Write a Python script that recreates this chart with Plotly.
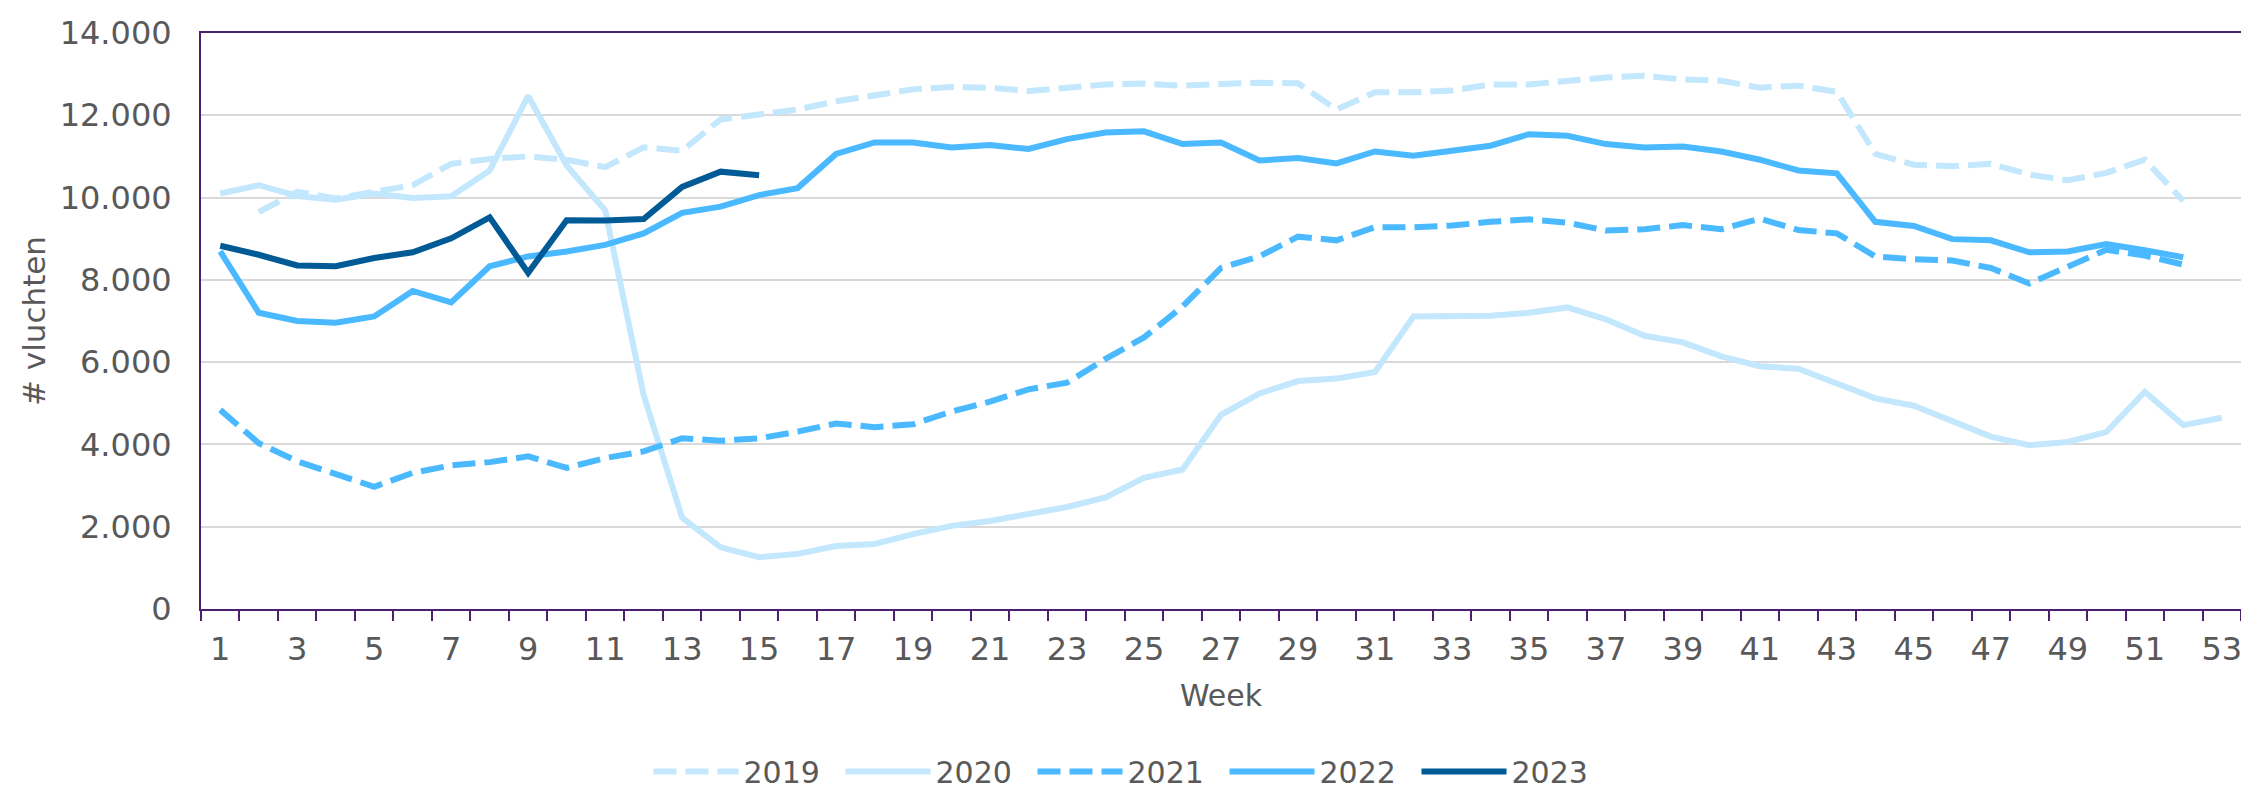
# %% Import
import plotly.graph_objects as go

# %% Data: aantal vluchten per week
weeks = list(range(1, 54))

y2019 = [None, 9650, 10140, 9980, 10140, 10300, 10820, 10940, 11000, 10920,
         10740, 11220, 11140, 11900, 12020, 12140, 12340, 12470, 12630, 12690,
         12670, 12590, 12670, 12750, 12770, 12720, 12760, 12790, 12780, 12140,
         12560, 12560, 12600, 12750, 12750, 12840, 12920, 12960, 12870, 12840,
         12670, 12720, 12570, 11060, 10800, 10760, 10820, 10560, 10420, 10600,
         10920, 9920, None]

y2020 = [10100, 10300, 10040, 9950, 10100, 9990, 10030, 10660, 12470, 10780,
         9690, 5200, 2220, 1500, 1260, 1340, 1530, 1580, 1820, 2020,
         2140, 2300, 2480, 2710, 3190, 3390, 4720, 5240, 5540, 5600,
         5760, 7110, 7110, 7130, 7200, 7330, 7040, 6640, 6480, 6140,
         5900, 5840, 5480, 5120, 4940, 4550, 4190, 3980, 4060, 4300,
         5280, 4470, 4650]

y2021 = [4840, 4030, 3590, 3270, 2970, 3310, 3490, 3570, 3710, 3430,
         3670, 3830, 4150, 4090, 4150, 4310, 4510, 4420, 4490, 4800,
         5040, 5340, 5500, 6080, 6600, 7350, 8290, 8570, 9050, 8960,
         9280, 9280, 9320, 9410, 9470, 9390, 9200, 9230, 9330, 9230,
         9490, 9210, 9130, 8570, 8500, 8470, 8290, 7910, 8330, 8730,
         8590, 8370, None]

y2022 = [8690, 7200, 7000, 6960, 7110, 7730, 7450, 8330, 8570, 8690,
         8850, 9130, 9630, 9780, 10060, 10230, 11060, 11340, 11340, 11220,
         11280, 11180, 11420, 11580, 11610, 11300, 11340, 10900, 10960, 10830,
         11120, 11020, 11140, 11260, 11540, 11500, 11300, 11220, 11240, 11120,
         10920, 10660, 10590, 9410, 9310, 8990, 8960, 8670, 8690, 8870,
         8720, 8550, None]

y2023 = [8830, 8610, 8350, 8330, 8530, 8670, 9010, 9520, 8170, 9450,
         9440, 9480, 10260, 10630, 10540]

series_names = ["2019", "2020", "2021", "2022", "2023"]
series_values = [y2019, y2020, y2021, y2022, y2023]

# %% Styling
LIGHT = "#C3E7FC"
MID = "#4AB9FF"
DARK = "#005A96"
PURPLE = "#4B1F6F"
GREY_TXT = "#595959"
FONT = "DejaVu Sans"

styles = {
    "2019": dict(color=LIGHT, dash="23px,9px"),
    "2020": dict(color=LIGHT, dash="solid"),
    "2021": dict(color=MID, dash="23px,9px"),
    "2022": dict(color=MID, dash="solid"),
    "2023": dict(color=DARK, dash="solid"),
}

# %% Plot
fig = go.Figure()
for name, vals in zip(series_names, series_values):
    st = styles[name]
    fig.add_trace(go.Scatter(
        x=weeks[:len(vals)], y=vals, mode="lines", name=name,
        line=dict(color=st["color"], width=6, dash=st["dash"]),
        connectgaps=False,
    ))

# the page body has an 8px margin, so the figure is a bit smaller
fig.update_layout(
    width=2241, height=783,
    margin=dict(l=193, r=6, t=20, b=182),
    paper_bgcolor="white", plot_bgcolor="white",
    font=dict(family=FONT, size=32, color=GREY_TXT),
    separators=",.",
    showlegend=True,
    legend=dict(orientation="h", xref="container", yref="container",
                x=0.5, xanchor="center", y=0.025, yanchor="middle",
                font=dict(size=30, color=GREY_TXT), entrywidth=92,
                itemwidth=85),
)

fig.update_xaxes(
    range=[0.5, 53.5], tickmode="array", tickvals=list(range(1, 54, 2)),
    ticks="outside", ticklen=11, tickcolor="rgba(0,0,0,0)",
    showgrid=False, zeroline=False,
    showline=True, linecolor=PURPLE, linewidth=2, mirror=True,
    minor=dict(ticks="outside", tick0=0.5, dtick=1, ticklen=10,
               tickcolor=PURPLE, tickwidth=2, showgrid=False),
    title=dict(text="Week", standoff=18, font=dict(size=30)),
)

fig.update_yaxes(
    range=[0, 14000], dtick=2000, tickformat=",d",
    ticks="outside", ticklen=21, tickcolor="rgba(0,0,0,0)",
    showgrid=True, gridcolor="#D9D9D9", gridwidth=2, zeroline=False,
    showline=True, linecolor=PURPLE, linewidth=2, mirror=True,
    title=dict(text="# vluchten", standoff=5, font=dict(size=31)),
)

fig.write_html("out.html")
